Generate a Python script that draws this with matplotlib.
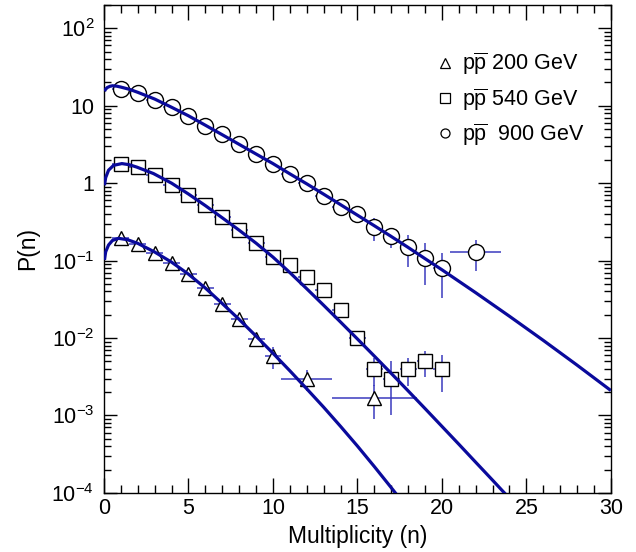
import numpy as np
import matplotlib
matplotlib.use("Agg")
import matplotlib.pyplot as plt
from matplotlib.lines import Line2D
from matplotlib.ticker import FixedLocator, FixedFormatter, LogLocator, MultipleLocator, NullFormatter

plt.rcParams.update({
    "font.family": ["Liberation Sans", "DejaVu Sans"],
    "mathtext.fontset": "custom",
    "mathtext.rm": "Liberation Sans",
    "mathtext.it": "Liberation Sans:italic",
    "mathtext.bf": "Liberation Sans:bold",
    "axes.linewidth": 1.0,
})

# ─── Data ───────────────────────────────────────────────────────────────────

# pp̄ 900 GeV
n_900 = [1, 2, 3, 4, 5, 6, 7, 8, 9, 10, 11, 12, 13, 14, 15, 16, 17, 18, 19, 20, 22]
p_900 = [16.5, 14.7, 12.0, 9.57, 7.41, 5.40, 4.26, 3.16, 2.35, 1.79, 1.30, 1.00,
         0.69, 0.494, 0.398, 0.268, 0.207, 0.148, 0.109, 0.080, 0.129]
ey_900 = [0.3, 0.3, 0.25, 0.2, 0.15, 0.12, 0.1, 0.08, 0.07, 0.06, 0.05, 0.05,
          0.04, 0.04, 0.05, 0.09, 0.06, 0.066, 0.06, 0.047, 0.055]
ex_900 = [0.5] * 20 + [1.5]

# pp̄ 540 GeV
n_540 = [1, 2, 3, 4, 5, 6, 7, 8, 9, 10, 11, 12, 13, 14, 15, 16, 17, 18, 19, 20]
p_540 = [1.79, 1.61, 1.26, 0.96, 0.70, 0.52, 0.367, 0.248, 0.170, 0.110, 0.0877,
         0.062, 0.0419, 0.0231, 0.0100, 0.0040, 0.0030, 0.0040, 0.0050, 0.0040]
ey_540 = [0.03, 0.03, 0.025, 0.02, 0.015, 0.012, 0.009, 0.007, 0.005, 0.004, 0.003,
          0.003, 0.002, 0.0045, 0.002, 0.0016, 0.002, 0.0016, 0.0019, 0.002]
ex_540 = [0.5] * 20

# pp̄ 200 GeV
n_200 = [1, 2, 3, 4, 5, 6, 7, 8, 9, 10, 12, 16]
p_200 = [0.195, 0.162, 0.126, 0.094, 0.0667, 0.044, 0.0276, 0.0176, 0.0097,
         0.0058, 0.00297, 0.00169]
ey_200 = [0.004, 0.003, 0.003, 0.002, 0.0015, 0.001, 0.0008, 0.0006, 0.0008,
          0.0018, 0.0009, 0.0008]
ex_200 = [0.5] * 10 + [1.5, 2.5]

# model curves (read at several multiplicities)
fit_n_900 = [0.03, 0.1, 0.2, 0.35, 0.5, 0.75, 1, 1.5, 2, 3, 4, 5, 6, 7, 8, 9, 10,
             11, 12, 13, 14, 15, 16, 17, 18, 19, 20, 22, 24, 26, 28, 30]
fit_p_900 = [15.4, 16.4, 17.2, 17.8, 18.1, 17.9, 17.4, 16.3, 14.9, 12.2, 9.55,
             7.41, 5.60, 4.22, 3.17, 2.38, 1.79, 1.32, 0.98, 0.721, 0.528, 0.386,
             0.282, 0.205, 0.148, 0.106, 0.0762, 0.0385, 0.0191, 0.00933, 0.00447,
             0.0021]

fit_n_540 = [0.03, 0.1, 0.27, 0.57, 1.06, 1.5, 1.95, 2.93, 4, 5, 6, 7, 8, 9, 10,
             11, 12, 13, 14, 15, 16, 17, 18, 19, 20, 21, 22, 23, 24]
fit_p_540 = [0.94, 1.18, 1.47, 1.70, 1.79, 1.73, 1.61, 1.33, 1.0, 0.724, 0.513,
             0.357, 0.247, 0.168, 0.111, 0.0701, 0.0433, 0.0265, 0.0161, 0.00973,
             0.00585, 0.0035, 0.00208, 0.00123, 7.24e-4, 4.26e-4, 2.49e-4,
             1.46e-4, 8.5e-5]

fit_n_200 = [0.03, 0.1, 0.27, 0.5, 0.86, 1.4, 2, 3, 4, 5, 6, 7, 8, 9, 10, 11, 12,
             13, 14, 15, 16, 17, 17.5]
fit_p_200 = [0.102, 0.13, 0.159, 0.182, 0.194, 0.186, 0.167, 0.129, 0.0955, 0.0668,
             0.0442, 0.0279, 0.0174, 0.0106, 0.00637, 0.00378, 0.00221, 0.00128,
             7.24e-4, 4.03e-4, 2.19e-4, 1.17e-4, 8.5e-5]

y_ticks = [1e-4, 1e-3, 1e-2, 1e-1, 1, 10, 100]
y_ticklabels = [r"$10^{-4}$", r"$10^{-3}$", r"$10^{-2}$", r"$10^{-1}$", "1", "10",
                r"$10^{2}$"]

labels = [r"p$\overline{\mathrm{p}}$ 200 GeV",
          r"p$\overline{\mathrm{p}}$ 540 GeV",
          r"p$\overline{\mathrm{p}}$  900 GeV"]

# ─── Style ──────────────────────────────────────────────────────────────────

COLOR_FIT = "#0a0a9c"
COLOR_ERR = "#3a3abf"
FS = 15.5

fig = plt.figure(figsize=(6.36, 5.52), dpi=100)
ax = fig.add_axes([0.1635, 0.107, 0.797, 0.884])

series = [
    (n_200, p_200, ex_200, ey_200, "^", 10.5),
    (n_540, p_540, ex_540, ey_540, "s", 9.6),
    (n_900, p_900, ex_900, ey_900, "o", 11.5),
]

for n, p, ex, ey, mk, ms in series:
    ax.errorbar(n, p, xerr=ex, yerr=ey, fmt="none", ecolor=COLOR_ERR,
                elinewidth=1.1, capsize=0, zorder=2)
    ax.plot(n, p, ls="none", marker=mk, ms=ms, mfc="white", mec="black",
            mew=1.0, zorder=3)

for fn, fp in [(fit_n_200, fit_p_200), (fit_n_540, fit_p_540), (fit_n_900, fit_p_900)]:
    ax.plot(fn, fp, color=COLOR_FIT, lw=2.3, solid_capstyle="butt",
            solid_joinstyle="round", zorder=4)

ax.set_yscale("log")
ax.set_xlim(0, 30)
ax.set_ylim(1e-4, 200)

ax.xaxis.set_major_locator(MultipleLocator(5))
ax.xaxis.set_minor_locator(MultipleLocator(1))
ax.yaxis.set_major_locator(FixedLocator(y_ticks))
ax.yaxis.set_major_formatter(FixedFormatter(y_ticklabels))
ax.yaxis.set_minor_locator(LogLocator(base=10, subs=np.arange(2, 10), numticks=100))
ax.yaxis.set_minor_formatter(NullFormatter())

ax.tick_params(which="both", direction="in", top=True, right=True, labelsize=FS)
ax.tick_params(axis="x", which="major", length=11, width=1.0, pad=4)
ax.tick_params(axis="x", which="minor", length=5.5, width=1.0)
ax.tick_params(axis="y", which="major", length=9.5, width=1.0, pad=7)
ax.tick_params(axis="y", which="minor", length=5, width=1.0)

ax.set_xlabel("Multiplicity (n)", fontsize=16.5, labelpad=4)
ax.set_ylabel("P(n)", fontsize=16.5, labelpad=9)

handles = [
    Line2D([], [], ls="none", marker="^", ms=7, mfc="white", mec="black", mew=0.9),
    Line2D([], [], ls="none", marker="s", ms=6.5, mfc="white", mec="black", mew=0.9),
    Line2D([], [], ls="none", marker="o", ms=6.5, mfc="white", mec="black", mew=0.9),
]
ax.legend(handles, labels, loc="upper left", bbox_to_anchor=(0.652, 0.906),
          frameon=False, fontsize=FS, handlelength=1.0, handletextpad=0.3,
          labelspacing=0.42, borderpad=0, borderaxespad=0)

fig.savefig("out.png", dpi=100, facecolor="white")
